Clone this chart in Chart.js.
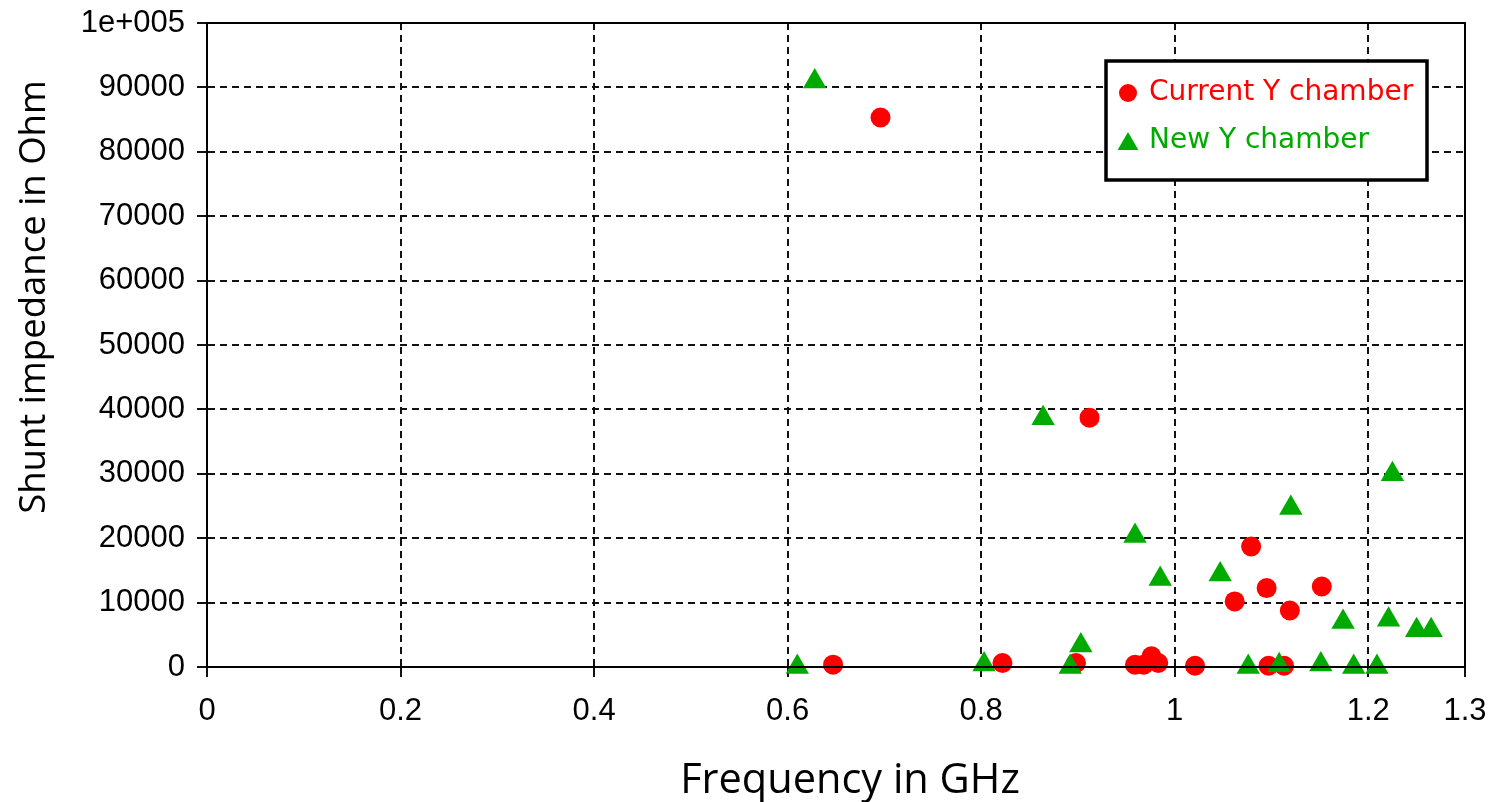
<!DOCTYPE html>
<html>
<head>
<meta charset="utf-8">
<style>
  html, body { margin: 0; padding: 0; background: #fff; }
  #wrap { width: 1495px; height: 802px; }
</style>
<script src="https://cdn.jsdelivr.net/npm/chart.js@4.4.1/dist/chart.umd.min.js"></script>
</head>
<body>
<div id="wrap"><canvas id="shuntChart"></canvas></div>
<script>
// --- DATA ---
const currentFreq = [0.647, 0.696, 0.822, 0.898, 0.912, 0.959, 0.968, 0.976, 0.983, 1.021, 1.062, 1.079, 1.095, 1.097, 1.113, 1.119, 1.152];
const currentShunt = [360, 85330, 620, 620, 38720, 350, 350, 1650, 620, 200, 10180, 18710, 12250, 200, 200, 8780, 12500];

const newFreq = [0.610, 0.628, 0.803, 0.864, 0.892, 0.903, 0.959, 0.985, 1.047, 1.076, 1.108, 1.120, 1.151, 1.174, 1.185, 1.209, 1.221, 1.225, 1.250, 1.265];
const newShunt = [0, 90900, 370, 38640, 0, 3340, 20340, 13680, 14380, 0, 280, 24680, 370, 7000, 0, 0, 7350, 29940, 5710, 5710];

const xTicks = [0, 0.2, 0.4, 0.6, 0.8, 1, 1.2, 1.3];
const xTickLabels = ["0", "0.2", "0.4", "0.6", "0.8", "1", "1.2", "1.3"];
const yTicks = [0, 10000, 20000, 30000, 40000, 50000, 60000, 70000, 80000, 90000, 100000];
const yTickLabels = ["0", "10000", "20000", "30000", "40000", "50000", "60000", "70000", "80000", "90000", "1e+005"];

const seriesNames = ["Current Y chamber", "New Y chamber"];
const xTitle = "Frequency in GHz";
const yTitle = "Shunt impedance in Ohm";

const toPoints = (xs, ys) => xs.map((x, i) => ({ x: x, y: ys[i] }));

const RED = "#ff0000";
const GREEN = "#00aa00";
const tickFont = { family: "'Liberation Sans', Arial, sans-serif", size: 31 };

// frame round the plot + axis titles + boxed legend
const framePlugin = {
    id: "frame",
    afterDraw(chart) {
        const ctx = chart.ctx;
        const a = chart.chartArea;
        ctx.save();
        ctx.strokeStyle = "#000";
        ctx.lineWidth = 2;
        ctx.strokeRect(a.left, a.top, a.right - a.left, a.bottom - a.top);

        // axis titles
        ctx.fillStyle = "#000";
        ctx.textAlign = "center";
        ctx.textBaseline = "alphabetic";
        ctx.font = "41.5px 'Open Sans', sans-serif";
        ctx.fillText(xTitle, a.left + 643, a.bottom + 126);
        ctx.font = "36.5px 'Open Sans', sans-serif";
        ctx.translate(a.left - 162, a.top + 274);
        ctx.rotate(-Math.PI / 2);
        ctx.fillText(yTitle, 0, 0);
        ctx.restore();

        // legend
        ctx.save();
        const lx = a.right - 359, ly = a.top + 38, lw = 321, lh = 119;
        ctx.fillStyle = "#fff";
        ctx.fillRect(lx, ly, lw, lh);
        ctx.strokeStyle = "#000";
        ctx.lineWidth = 3.5;
        ctx.strokeRect(lx, ly, lw, lh);
        ctx.font = "28px 'DejaVu Sans', sans-serif";
        ctx.textAlign = "left";
        ctx.textBaseline = "middle";
        chart.data.datasets.forEach((ds, i) => {
            const cy = ly + 32 + i * 48;
            const tri = ds.pointStyle === "triangle";
            ctx.fillStyle = ds.backgroundColor;
            Chart.helpers.drawPoint(ctx, {
                pointStyle: ds.pointStyle,
                radius: tri ? 12 : 9,
                rotation: 0,
                borderWidth: 0
            }, lx + 22, cy + (tri ? 3 : 0));
            ctx.fillStyle = ds.backgroundColor;
            ctx.fillText(ds.label, lx + 43, cy);
        });
        ctx.restore();
    }
};

const gridOpts = {
    color: "#111",
    lineWidth: 2,
    tickLength: 10,
    tickBorderDash: [],
    tickColor: "#111",
    tickWidth: 2
};
const borderOpts = { display: true, color: "#000", width: 2, dash: [7, 5] };

new Chart(document.getElementById("shuntChart"), {
    type: "scatter",
    data: {
        datasets: [
            {
                label: seriesNames[0],
                data: toPoints(currentFreq, currentShunt),
                pointStyle: "circle",
                pointRadius: 10,
                pointHoverRadius: 10,
                pointBorderWidth: 0,
                backgroundColor: RED,
                borderColor: RED,
                clip: false,
                order: 1
            },
            {
                label: seriesNames[1],
                data: toPoints(newFreq, newShunt),
                pointStyle: "triangle",
                pointRadius: 13.5,
                pointHoverRadius: 13.5,
                pointBorderWidth: 0,
                backgroundColor: GREEN,
                borderColor: GREEN,
                clip: false,
                order: 0
            }
        ]
    },
    options: {
        responsive: true,
        maintainAspectRatio: false,
        animation: false,
        layout: { padding: { left: 0, top: 23, right: 30, bottom: 0 } },
        plugins: {
            legend: { display: false },
            tooltip: { enabled: false }
        },
        scales: {
            x: {
                type: "linear",
                min: 0,
                max: 1.3,
                afterBuildTicks: (scale) => { scale.ticks = xTicks.map(v => ({ value: v })); },
                afterFit: (scale) => {
                    scale.height = 135;
                    scale.paddingLeft = 0; scale.paddingRight = 0;
                },
                ticks: {
                    color: "#000",
                    font: tickFont,
                    padding: 16,
                    maxRotation: 0,
                    autoSkip: false,
                    callback: (v) => { const i = xTicks.indexOf(v); return i >= 0 ? xTickLabels[i] : ""; }
                },
                grid: gridOpts,
                border: borderOpts
            },
            y: {
                type: "linear",
                min: 0,
                max: 100000,
                afterBuildTicks: (scale) => { scale.ticks = yTicks.map(v => ({ value: v })); },
                afterFit: (scale) => {
                    scale.width = 207;
                    scale.paddingTop = 0; scale.paddingBottom = 0;
                },
                ticks: {
                    color: "#000",
                    font: tickFont,
                    padding: 12,
                    autoSkip: false,
                    callback: (v) => { const i = yTicks.indexOf(v); return i >= 0 ? yTickLabels[i] : ""; }
                },
                grid: gridOpts,
                border: borderOpts
            }
        }
    },
    plugins: [framePlugin]
});
</script>
</body>
</html>
